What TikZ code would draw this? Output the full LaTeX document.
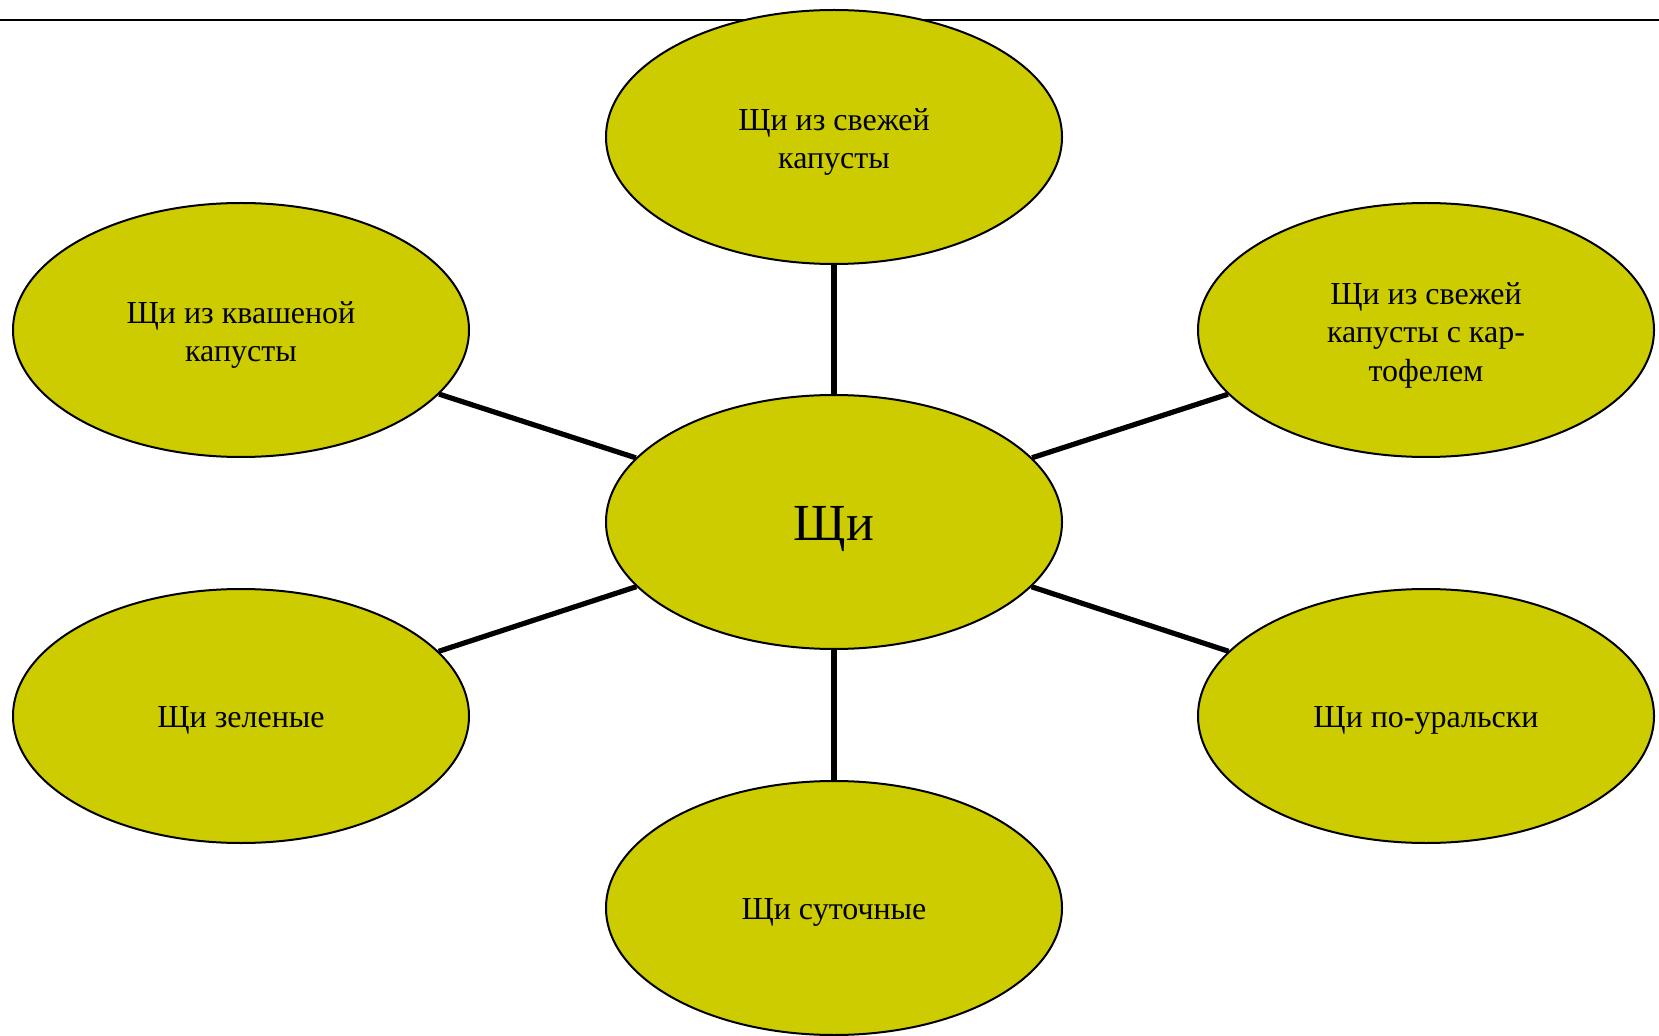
\documentclass[tikz,border=0pt]{standalone}
\usepackage{fontspec}
\setmainfont{Liberation Serif}
\usetikzlibrary{shapes.geometric}
\definecolor{soupfill}{HTML}{CCCC00}
\tikzstyle{dish} = [
    draw,
    ellipse,
    line width=1pt,
    minimum width=228pt,
    minimum height=127pt,
    inner sep=0pt,
    align=center,
    text height=15pt,
    fill=soupfill,
    font=\fontsize{16}{19.3}\selectfont
]
\tikzstyle{two lines} = [text height=35.4pt]
\tikzstyle{three lines} = [text height=54.8pt]
\tikzstyle{main dish} = [dish, text height=23.6pt, font=\fontsize{26}{30}\selectfont]
\tikzstyle{link} = [line width=2.6pt]
\tikzstyle{headline} = [line width=1.35pt]

\begin{document}
\begin{tikzpicture}[x=0.5pt, y=0.5pt]
    \useasboundingbox (0, 0) rectangle (1659, 1035);

    % Top rule.
    \coordinate (rule left) at (0, 1015);
    \coordinate (rule right) at (1659, 1015);
    \draw [headline] (rule left) -- (rule right);

    % Nodes.
    \node (soup) [main dish] at (834, 513) {Щи};

    \node (fresh cabbage) [dish, two lines] at (834, 898) {Щи из свежей\\капусты};
    \node (sour cabbage) [dish, two lines] at (241, 705) {Щи из квашеной\\капусты};
    \node (fresh potato) [dish, three lines] at (1426, 705) {Щи из свежей\\капусты с кар-\\тофелем};
    \node (green soup) [dish] at (241, 319) {Щи зеленые};
    \node (ural soup) [dish] at (1426, 319) {Щи по-уральски};
    \node (daily soup) [dish] at (834, 127) {Щи суточные};

    % Paths.
    \draw [link] (soup) -- (fresh cabbage);
    \draw [link] (soup) -- (sour cabbage);
    \draw [link] (soup) -- (fresh potato);
    \draw [link] (soup) -- (green soup);
    \draw [link] (soup) -- (ural soup);
    \draw [link] (soup) -- (daily soup);
\end{tikzpicture}
\end{document}
